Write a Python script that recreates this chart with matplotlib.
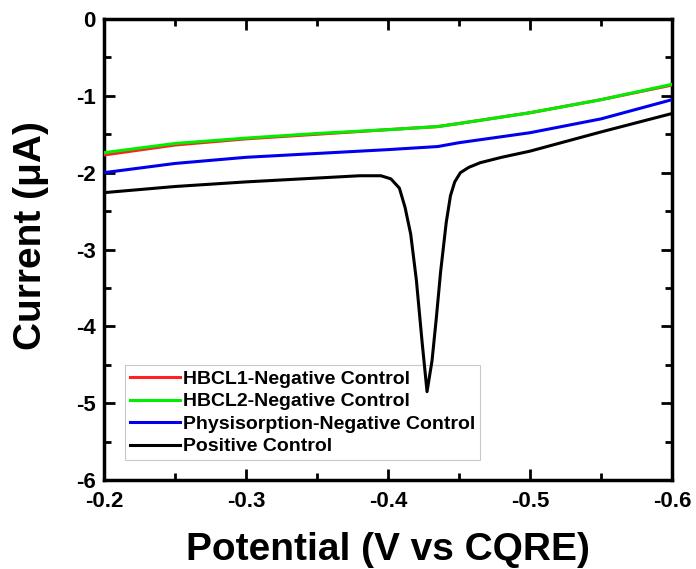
import matplotlib
matplotlib.use('Agg')
import matplotlib.pyplot as plt
from matplotlib.ticker import MultipleLocator

# potential (V vs CQRE) and current (uA)
x_neg = [-0.2, -0.25, -0.3, -0.35, -0.4, -0.435, -0.45, -0.5, -0.55, -0.6]
hbcl1 = [-1.77, -1.64, -1.56, -1.50, -1.44, -1.40, -1.36, -1.22, -1.05, -0.86]
hbcl2 = [-1.74, -1.62, -1.55, -1.49, -1.44, -1.40, -1.36, -1.22, -1.05, -0.85]
physi = [-2.00, -1.88, -1.80, -1.75, -1.70, -1.66, -1.61, -1.48, -1.30, -1.05]

x_pos = [-0.2, -0.25, -0.3, -0.35, -0.38, -0.395, -0.402, -0.408, -0.412, -0.416,
         -0.420, -0.424, -0.4275, -0.431, -0.434, -0.437, -0.441, -0.444, -0.447,
         -0.451, -0.457, -0.465, -0.48, -0.5, -0.55, -0.6]
positive = [-2.26, -2.18, -2.12, -2.07, -2.04, -2.04, -2.08, -2.20, -2.45, -2.80,
            -3.40, -4.20, -4.85, -4.45, -3.90, -3.30, -2.65, -2.30, -2.12,
            -2.00, -1.93, -1.87, -1.80, -1.72, -1.47, -1.23]

series = [
    ('HBCL1-Negative Control', x_neg, hbcl1, '#ff2020'),
    ('HBCL2-Negative Control', x_neg, hbcl2, '#00ee00'),
    ('Physisorption-Negative Control', x_neg, physi, '#0000ee'),
    ('Positive Control', x_pos, positive, 'black'),
]

plt.rcParams['font.family'] = ['Liberation Sans', 'DejaVu Sans']
plt.rcParams['axes.unicode_minus'] = False

fig = plt.figure(figsize=(6.96, 5.69), dpi=100)
ax = fig.add_axes([0.1494, 0.1564, 0.8161, 0.8102])

for name, xs, ys, col in series:
    ax.plot(xs, ys, color=col, lw=2.2, label=name, solid_joinstyle='round', zorder=3)

ax.set_xlim(-0.2, -0.6)
ax.set_ylim(-6, 0)
ax.xaxis.set_major_locator(MultipleLocator(0.1))
ax.xaxis.set_minor_locator(MultipleLocator(0.05))
ax.yaxis.set_major_locator(MultipleLocator(1))
ax.yaxis.set_minor_locator(MultipleLocator(0.5))
ax.tick_params(which='both', direction='in', top=True, right=True, width=2)
ax.tick_params(which='major', length=8, pad=6)
ax.tick_params(axis='x', which='major', pad=8)
ax.tick_params(which='minor', length=5)
for s in ax.spines.values():
    s.set_linewidth(2.5)

ax.set_xticks([-0.2, -0.3, -0.4, -0.5, -0.6])
ax.set_xticklabels(['-0.2', '-0.3', '-0.4', '-0.5', '-0.6'])
for lab in ax.get_xticklabels() + ax.get_yticklabels():
    lab.set_fontweight('bold')
    lab.set_fontsize(16)

ax.set_xlabel('Potential (V vs CQRE)', fontweight='bold', fontsize=28, labelpad=14)
ax.set_ylabel('Current (μA)', fontweight='bold', fontsize=28)
ax.yaxis.set_label_coords(-0.097, 0.53)

leg = ax.legend(loc='lower left', bbox_to_anchor=(0.037, 0.043), fancybox=False,
                prop={'weight': 'bold', 'size': 14},
                handlelength=2.6, handletextpad=0.15, labelspacing=0.25,
                borderpad=0.25, borderaxespad=0)
leg.get_frame().set_edgecolor('#bbbbbb')
leg.get_frame().set_linewidth(0.8)
leg.set_zorder(2)

fig.savefig('out.png', dpi=100)
